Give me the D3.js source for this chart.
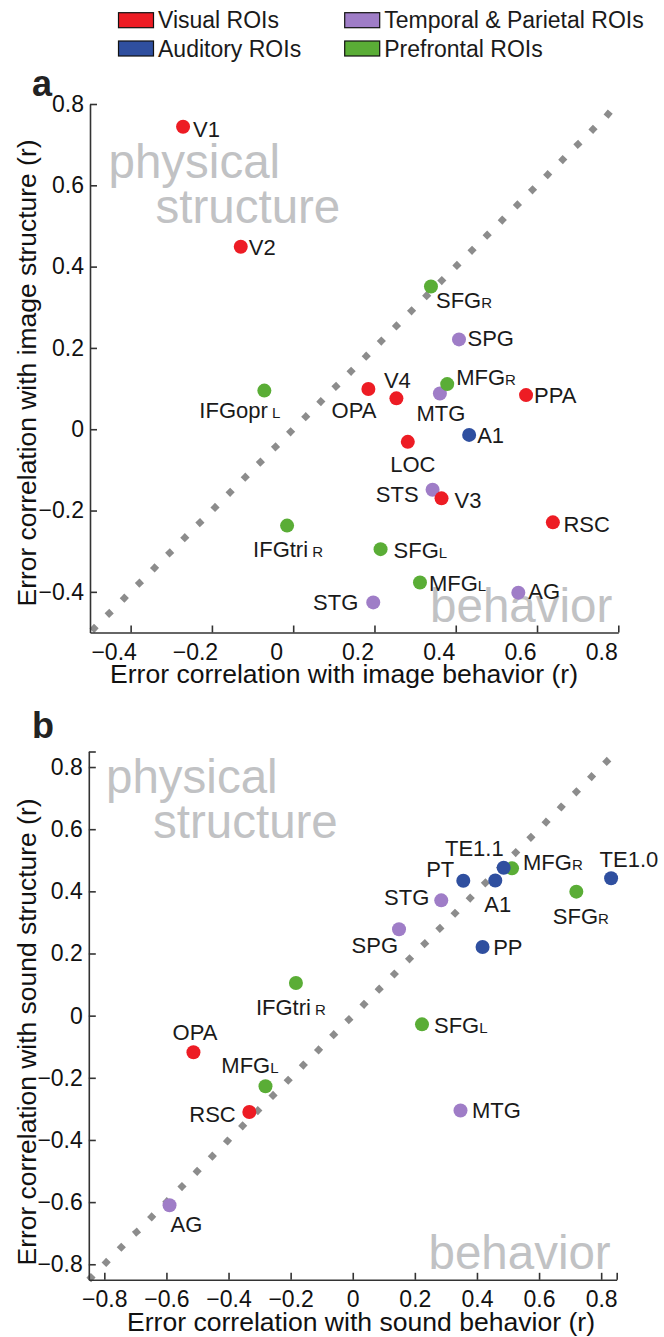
<!DOCTYPE html>
<html>
<head>
<meta charset="utf-8">
<script src="https://cdn.jsdelivr.net/npm/d3@7"></script>
<style>
    body { margin: 0; background: #fff; }
    svg text { font-family: "Liberation Sans", Arial, Helvetica, sans-serif; }
</style>
</head>
<body>
<div id="chart"></div>
<script>
/* ROI groups (legend) */
const groupNames = ["Visual ROIs", "Auditory ROIs", "Temporal & Parietal ROIs", "Prefrontal ROIs"];
const groupKeys = ["visual", "auditory", "temporal", "prefrontal"];
const groupColors = ["#ed1c24", "#2f4f9f", "#9f7dc7", "#5aad36"];

/* panel a: images */
const imageRois = ["V1","V2","SFG","SPG","IFGopr","OPA","V4","MTG","MFG","PPA","A1","LOC","STS","V3","RSC","IFGtri","SFG","MFG","AG","STG"];
const imageHemi = ["","","R","",  " L","","","","R","","","","","",""," R","L","L","",""];
const imageGroup = ["visual","visual","prefrontal","temporal","prefrontal","visual","visual","temporal","prefrontal","visual",
    "auditory","visual","temporal","visual","visual","prefrontal","prefrontal","prefrontal","temporal","temporal"];
const imageBehavior = [-0.271,-0.129,0.339,0.408,-0.071,0.185,0.254,0.361,0.379,0.573,0.433,0.282,0.343,0.365,0.639,-0.015,0.215,0.312,0.554,0.197];
const imageStructure = [0.744,0.449,0.351,0.221,0.095,0.099,0.076,0.088,0.111,0.084,-0.014,-0.031,-0.149,-0.170,-0.229,-0.237,-0.295,-0.377,-0.402,-0.426];
const imageTicks = [-0.4,-0.2,0,0.2,0.4,0.6,0.8];
const imageDiagonal = [-0.49, 0.775];

/* panel b: sounds */
const soundRois = ["TE1.1","MFG","PT","A1","TE1.0","SFG","STG","SPG","PP","IFGtri","SFG","OPA","MFG","RSC","MTG","AG"];
const soundHemi = ["","R","","","","R","","",""," R","L","","L","","",""];
const soundGroup = ["auditory","prefrontal","auditory","auditory","auditory","prefrontal","temporal","temporal","auditory",
    "prefrontal","prefrontal","visual","prefrontal","visual","temporal","temporal"];
const soundBehavior = [0.486,0.513,0.356,0.459,0.832,0.720,0.285,0.149,0.418,-0.183,0.223,-0.513,-0.281,-0.333,0.347,-0.590];
const soundStructure = [0.476,0.474,0.434,0.435,0.442,0.399,0.371,0.278,0.221,0.105,-0.028,-0.118,-0.227,-0.310,-0.305,-0.610];
const soundTicks = [-0.8,-0.6,-0.4,-0.2,0,0.2,0.4,0.6,0.8];
const soundDiagonal = [-0.843, 0.818];

// label placement next to each dot: [anchor, dx, dy]
const imageLabelPos = [["start",10,10],["start",8,8],["start",5,21],["start",8.5,7],["end",16,27],["end",8,29],["start",-12.5,-10],
    ["middle",1,28],["start",9,1],["start",8,8],["start",8,8],["middle",5,30],["end",-14,12],["start",13,10],["start",10.6,9.4],
    ["middle",1,31],["start",13,9],["start",9,9],["start",10,6],["end",-15,8]];
const soundLabelPos = [["end",0,-12],["start",11,2],["end",-9,-4],["start",-11,32],["start",-11.5,-11],["middle",4.5,32],
    ["end",-12,5],["end",-1,24],["start",10.6,8],["middle",-5,32],["start",12,9],["middle",1.5,-12],["middle",-15.5,-13],
    ["end",-13.6,10],["start",11.5,8],["start",1,27]];

const drawOrder = ["temporal", "prefrontal", "visual", "auditory"];
const color = d3.scaleOrdinal().domain(groupKeys).range(groupColors);

const svg = d3.select("#chart").append("svg")
    .attr("width", 664).attr("height", 1337);

class ErrorScatter {

    constructor(svg, cfg) {
        this.svg = svg;
        this.cfg = cfg;
        this.initVis();
    }

    initVis() {
        let vis = this, c = vis.cfg;

        vis.x = d3.scaleLinear().domain(c.xDomain).range(c.xRange);
        vis.y = d3.scaleLinear().domain(c.yDomain).range(c.yRange);
        vis.g = vis.svg.append("g");

        // panel letter
        vis.g.append("text").text(c.letter)
            .attr("x", 32).attr("y", c.letterY)
            .attr("font-size", 36).attr("font-weight", "bold").attr("fill", "#222");

        // grey watermark words
        let wm = vis.g.append("g").attr("fill", "#c1c2c4").attr("font-size", 47.5);
        wm.append("text").text("physical").attr("x", c.physX).attr("y", c.physY);
        wm.append("text").text("structure").attr("x", c.physX + 47).attr("y", c.physY + 45);
        wm.append("text").text("behavior").attr("text-anchor", "end")
            .attr("x", c.xRange[1] - 6).attr("y", c.yRange[0] - 11);

        vis.wrangleData();
    }

    wrangleData() {
        let vis = this, c = vis.cfg;
        vis.data = c.rois.map((r, i) => ({
            name: r, hemi: c.hemi[i], group: c.group[i],
            bx: c.behavior[i], sy: c.structure[i], pos: c.labelPos[i]
        }));
        vis.data.sort((a, b) => drawOrder.indexOf(a.group) - drawOrder.indexOf(b.group));
        vis.updateVis();
    }

    updateVis() {
        let vis = this, c = vis.cfg;

        // dotted identity line (diamonds = square caps on a 45 degree line)
        let d0 = c.diagonal[0], d1 = c.diagonal[1];
        let len = Math.hypot(vis.x(d1) - vis.x(d0), vis.y(d1) - vis.y(d0));
        let step = len / Math.round(len / 21.6);
        vis.g.append("path")
            .attr("d", d3.line().x(d => vis.x(d)).y(d => vis.y(d))([d0, d1]))
            .attr("stroke", "#8c8c8c").attr("stroke-width", 6.5)
            .attr("stroke-linecap", "square")
            .attr("stroke-dasharray", "0.001 " + (step - 0.001))
            .attr("fill", "none");

        // axes
        let xVals = c.ticks.slice(), yVals = c.ticks.slice();
        if (c.endTicks) { xVals.push(c.xDomain[1]); yVals.push(c.yDomain[1]); }
        let fmt = d => c.ticks.includes(d) ? (d === 0 ? "0" : d3.format(".1f")(d)) : "";

        let xAxis = d3.axisBottom(vis.x).tickValues(xVals).tickFormat(fmt)
            .tickSizeInner(-7).tickSizeOuter(0).tickPadding(11);
        let yAxis = d3.axisLeft(vis.y).tickValues(yVals).tickFormat(fmt)
            .tickSizeInner(-7).tickSizeOuter(0).tickPadding(6);

        let gx = vis.g.append("g").attr("transform", "translate(0," + c.yRange[0] + ")").call(xAxis);
        let gy = vis.g.append("g").attr("transform", "translate(" + c.xRange[0] + ",0)").call(yAxis);
        [gx, gy].forEach(a => {
            a.attr("font-size", 23).attr("font-family", null);
            a.select(".domain").attr("stroke", "#333").attr("stroke-width", 1.6);
            a.selectAll(".tick line").attr("stroke", "#333").attr("stroke-width", 1.6);
            a.selectAll(".tick text").attr("fill", "#111");
        });
        gx.selectAll(".tick text").attr("dx", c.xLabelShift);

        // axis titles
        vis.g.append("text").text(c.xTitle)
            .attr("x", c.xTitleX).attr("y", c.xTitleY).attr("text-anchor", "middle")
            .attr("font-size", 25).attr("textLength", 468).attr("lengthAdjust", "spacingAndGlyphs")
            .attr("fill", "#111");
        vis.g.append("text").text(c.yTitle)
            .attr("transform", "translate(36," + c.yTitleY + ") rotate(-90)")
            .attr("text-anchor", "middle")
            .attr("font-size", 25).attr("textLength", 467).attr("lengthAdjust", "spacingAndGlyphs")
            .attr("fill", "#111");

        // dots
        vis.g.append("g").selectAll("circle")
            .data(vis.data).enter().append("circle")
            .attr("cx", d => vis.x(d.bx))
            .attr("cy", d => vis.y(d.sy))
            .attr("r", 7)
            .attr("fill", d => color(d.group));

        // ROI labels
        let lab = vis.g.append("g").selectAll("text")
            .data(vis.data).enter().append("text")
            .attr("x", d => vis.x(d.bx) + d.pos[1])
            .attr("y", d => vis.y(d.sy) + d.pos[2])
            .attr("text-anchor", d => d.pos[0])
            .attr("font-size", 22).attr("fill", "#1a1a1a");
        lab.append("tspan").text(d => d.name);
        lab.filter(d => d.hemi !== "").append("tspan")
            .attr("font-size", 15).text(d => d.hemi);
    }
}

// legend
let legend = svg.append("g").selectAll("g")
    .data(groupNames).enter().append("g")
    .attr("transform", (d, i) => "translate(" + (i < 2 ? 118.5 : 344.7) + "," + (i % 2 === 0 ? 12.7 : 41) + ")");
legend.append("rect")
    .attr("width", 35).attr("height", 15)
    .attr("fill", (d, i) => groupColors[i])
    .attr("stroke", "#111").attr("stroke-width", 1.2);
legend.append("text").text(d => d)
    .attr("x", 39.5).attr("y", 15.6)
    .attr("font-size", 23).attr("fill", "#1a1a1a");

new ErrorScatter(svg, {
    letter: "a", letterY: 96,
    rois: imageRois, hemi: imageHemi, group: imageGroup,
    behavior: imageBehavior, structure: imageStructure, labelPos: imageLabelPos,
    ticks: imageTicks, diagonal: imageDiagonal, endTicks: false,
    xDomain: [-0.5, 0.8], xRange: [90, 618.3],
    yDomain: [-0.5, 0.8], yRange: [632.5, 104],
    xLabelShift: -17,
    physX: 108.5, physY: 178,
    xTitle: "Error correlation with image behavior (r)", xTitleX: 344, xTitleY: 683,
    yTitle: "Error correlation with image structure (r)", yTitleY: 373
});

new ErrorScatter(svg, {
    letter: "b", letterY: 738,
    rois: soundRois, hemi: soundHemi, group: soundGroup,
    behavior: soundBehavior, structure: soundStructure, labelPos: soundLabelPos,
    ticks: soundTicks, diagonal: soundDiagonal, endTicks: true,
    xDomain: [-0.85, 0.85], xRange: [88.8, 616.7],
    yDomain: [-0.85, 0.85], yRange: [1279.8, 751.5],
    xLabelShift: 0,
    physX: 106, physY: 793,
    xTitle: "Error correlation with sound behavior (r)", xTitleX: 361, xTitleY: 1331,
    yTitle: "Error correlation with sound structure (r)", yTitleY: 1032
});
</script>
</body>
</html>
